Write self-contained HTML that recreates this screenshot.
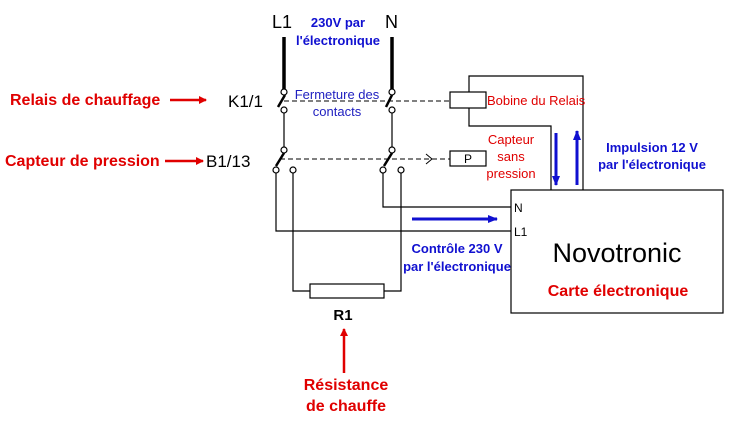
<!DOCTYPE html>
<html><head><meta charset="utf-8"><style>
html,body{margin:0;padding:0;background:#fff}
svg{display:block}
text{font-family:"Liberation Sans",Arial,sans-serif}
.r{fill:#e00000;font-weight:bold;font-size:16px}
.b{fill:#1010d0;font-weight:bold;font-size:13px}
</style></head><body>
<svg width="734" height="422" viewBox="0 0 734 422" xmlns="http://www.w3.org/2000/svg">
<defs>
<marker id="ar" markerWidth="8" markerHeight="8" refX="7" refY="4" orient="auto" markerUnits="userSpaceOnUse"><path d="M0,0 L8,4 L0,8 z" fill="#e00000"/></marker>
<marker id="ab" markerWidth="10" markerHeight="8" refX="9" refY="4" orient="auto" markerUnits="userSpaceOnUse"><path d="M0,0 L10,4 L0,8 z" fill="#1010d0"/></marker>
</defs>
<line x1="284" y1="37" x2="284" y2="89" stroke="#000" stroke-width="3.5"/>
<line x1="392" y1="37" x2="392" y2="89" stroke="#000" stroke-width="3.5"/>
<text x="272" y="28" font-size="18" fill="#000">L1</text>
<text x="385" y="28" font-size="18" fill="#000">N</text>
<text x="338" y="27" class="b" text-anchor="middle">230V par</text>
<text x="338" y="45" class="b" text-anchor="middle">l'électronique</text>
<g stroke="#000" stroke-width="1.2" fill="#fff">
<line x1="284" y1="113" x2="284" y2="147"/>
<line x1="392" y1="113" x2="392" y2="147"/>
<line x1="285" y1="95" x2="278" y2="107" stroke-width="2.5"/>
<line x1="392" y1="95" x2="386" y2="107" stroke-width="2.5"/>
<line x1="284" y1="153" x2="276" y2="166" stroke-width="2.5"/>
<line x1="392" y1="153" x2="384" y2="166" stroke-width="2.5"/>
<polyline points="276,173 276,231 511,231" fill="none"/>
<polyline points="383,173 383,207 511,207" fill="none"/>
<polyline points="293,173 293,291 310,291" fill="none"/>
<polyline points="384,291 401,291 401,173" fill="none"/>
<rect x="310" y="284" width="74" height="14"/>
<polyline points="469,92 469,76 583,76 583,190" fill="none"/>
<polyline points="469,108 469,126 551,126 551,190" fill="none"/>
<rect x="450" y="92" width="36" height="16"/>
<rect x="450" y="151" width="36" height="15"/>
<rect x="511" y="190" width="212" height="123"/>
<circle cx="284" cy="92" r="3"/><circle cx="284" cy="110" r="3"/>
<circle cx="392" cy="92" r="3"/><circle cx="392" cy="110" r="3"/>
<circle cx="284" cy="150" r="3"/><circle cx="276" cy="170" r="3"/><circle cx="293" cy="170" r="3"/>
<circle cx="392" cy="150" r="3"/><circle cx="383" cy="170" r="3"/><circle cx="401" cy="170" r="3"/>
</g>
<line x1="284" y1="101" x2="450" y2="101" stroke="#000" stroke-dasharray="5,3"/>
<line x1="280" y1="159" x2="450" y2="159" stroke="#000" stroke-dasharray="5,3"/>
<polyline points="426,154 432,159 426,164" fill="none" stroke="#000"/>
<text x="468" y="163" font-size="12" text-anchor="middle">P</text>
<text x="337" y="99" font-size="13" fill="#2020c0" text-anchor="middle">Fermeture des</text>
<text x="337" y="116" font-size="13" fill="#2020c0" text-anchor="middle">contacts</text>
<text x="487" y="105" font-size="13" fill="#e00000">Bobine du Relais</text>
<text x="511" y="144" font-size="13" fill="#e00000" text-anchor="middle">Capteur</text>
<text x="511" y="161" font-size="13" fill="#e00000" text-anchor="middle">sans</text>
<text x="511" y="178" font-size="13" fill="#e00000" text-anchor="middle">pression</text>
<line x1="556" y1="133" x2="556" y2="185" stroke="#1010d0" stroke-width="3" marker-end="url(#ab)"/>
<line x1="577" y1="185" x2="577" y2="131" stroke="#1010d0" stroke-width="3" marker-end="url(#ab)"/>
<line x1="412" y1="219" x2="497" y2="219" stroke="#1010d0" stroke-width="3" marker-end="url(#ab)"/>
<text x="652" y="152" class="b" text-anchor="middle">Impulsion 12 V</text>
<text x="652" y="169" class="b" text-anchor="middle">par l'électronique</text>
<text x="457" y="253" class="b" text-anchor="middle">Contrôle 230 V</text>
<text x="457" y="271" class="b" text-anchor="middle">par l'électronique</text>
<text x="514" y="212" font-size="12">N</text>
<text x="514" y="236" font-size="12">L1</text>
<text x="617" y="262" font-size="27" text-anchor="middle">Novotronic</text>
<text x="618" y="296" class="r" text-anchor="middle">Carte électronique</text>
<text x="10" y="105" class="r">Relais de chauffage</text>
<line x1="170" y1="100" x2="206" y2="100" stroke="#e00000" stroke-width="2.5" marker-end="url(#ar)"/>
<text x="228" y="107" font-size="17">K1/1</text>
<text x="5" y="166" class="r">Capteur de pression</text>
<line x1="165" y1="161" x2="203" y2="161" stroke="#e00000" stroke-width="2.5" marker-end="url(#ar)"/>
<text x="206" y="167" font-size="17">B1/13</text>
<text x="343" y="320" font-size="15" font-weight="bold" text-anchor="middle">R1</text>
<line x1="344" y1="373" x2="344" y2="329" stroke="#e00000" stroke-width="2.5" marker-end="url(#ar)"/>
<text x="346" y="390" class="r" text-anchor="middle">Résistance</text>
<text x="346" y="411" class="r" text-anchor="middle">de chauffe</text>
</svg>
</body></html>
